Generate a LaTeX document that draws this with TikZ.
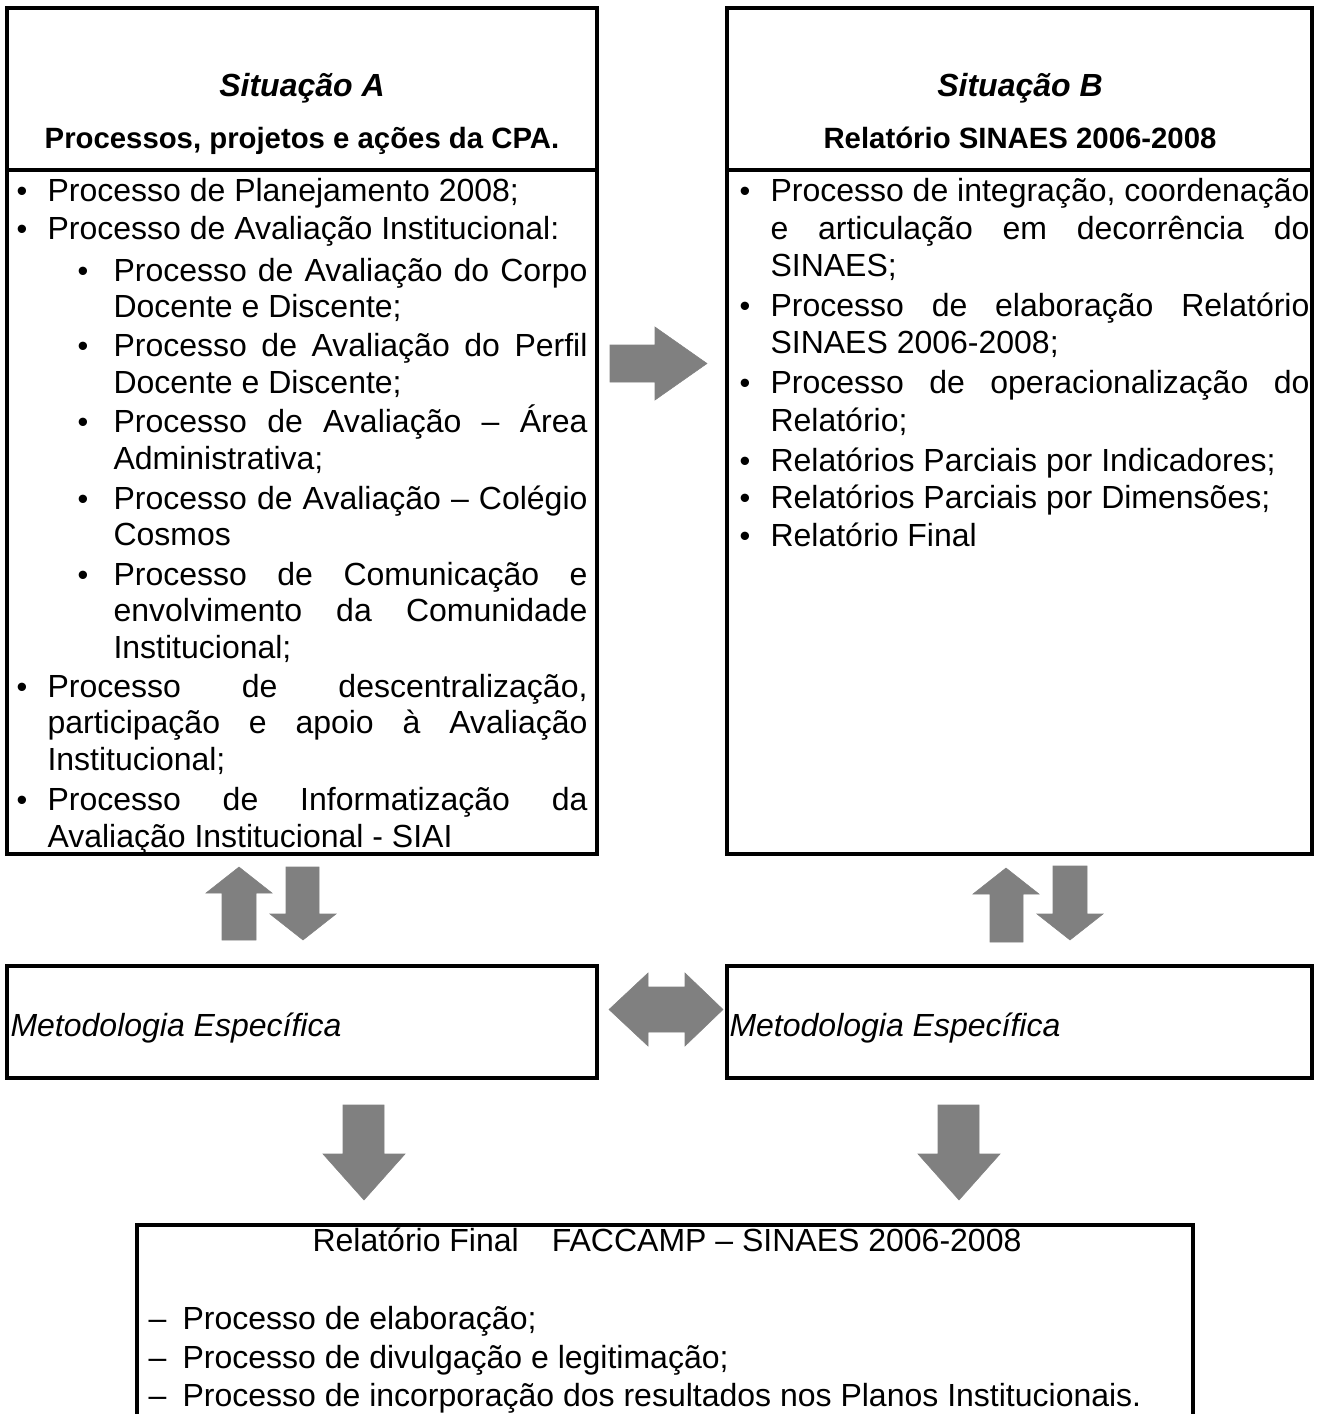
\documentclass[tikz,border=0pt]{standalone}
\usepackage{fontspec}
\setmainfont{Liberation Sans}
\definecolor{arrowgray}{RGB}{128,128,128}
% a line of a justified paragraph, stretched to the given width
\newcommand\jline[2]{\makebox[#1][s]{#2}}
\begin{document}
\begin{tikzpicture}[x=0.375pt,y=-0.375pt,
  frame/.style={line width=1.2pt, line join=miter},
  blockarrow/.style={fill=arrowgray, draw=arrowgray, line width=0.2pt},
  txt/.style={anchor=base west, inner sep=0pt, font=\fontsize{12}{14}\selectfont},
  ttl/.style={anchor=base, inner sep=0pt, font=\fontsize{12}{14}\selectfont\bfseries\itshape},
  subttl/.style={anchor=base, inner sep=0pt, font=\fontsize{11}{13}\selectfont\bfseries},
  bul/.style={anchor=base west, inner sep=0pt, font=\fontsize{11.5}{13}\selectfont}]
\useasboundingbox (0,0) rectangle (1320,1414);

% ---------- frames ----------
\draw[frame] (7,8) rectangle (597,854);
\draw[frame] (7,170) -- (597,170);
\draw[frame] (727,8) rectangle (1312,854);
\draw[frame] (727,170) -- (1312,170);
\draw[frame] (7,966) rectangle (597,1078);
\draw[frame] (727,966) rectangle (1312,1078);
\draw[frame] (137,1416) -- (137,1225) -- (1193,1225) -- (1193,1416);

% ---------- headers ----------
\node[ttl] (titA) at (302,96) {Situação A};
\node[subttl] (subA) at (302,148) {Processos, projetos e ações da CPA.};
\node[ttl] (titB) at (1020,96) {Situação B};
\node[subttl] (subB) at (1020,148) {Relatório SINAES 2006-2008};

% ---------- list of situation A ----------
\def\wa{202.5pt}\def\ws{177.75pt}
\node[bul] (ba1) at (16,201) {•};
\node[txt] (a1) at (47,201) {Processo de Planejamento 2008;};
\node[bul] (ba2) at (16,239) {•};
\node[txt] (a2) at (47,239) {Processo de Avaliação Institucional:};
\node[bul] (ba3) at (77,281) {•};
\node[txt] (a3) at (113,281) {\jline{\ws}{Processo de Avaliação do Corpo}};
\node[txt] (a4) at (113,317) {Docente e Discente;};
\node[bul] (ba5) at (77,356) {•};
\node[txt] (a5) at (113,356) {\jline{\ws}{Processo de Avaliação do Perfil}};
\node[txt] (a6) at (113,393) {Docente e Discente;};
\node[bul] (ba7) at (77,432) {•};
\node[txt] (a7) at (113,432) {\jline{\ws}{Processo de Avaliação – Área}};
\node[txt] (a8) at (113,469) {Administrativa;};
\node[bul] (ba9) at (77,509) {•};
\node[txt] (a9) at (113,509) {\jline{\ws}{Processo de Avaliação – Colégio}};
\node[txt] (a10) at (113,545) {Cosmos};
\node[bul] (ba11) at (77,585) {•};
\node[txt] (a11) at (113,585) {\jline{\ws}{Processo de Comunicação e}};
\node[txt] (a12) at (113,621) {\jline{\ws}{envolvimento da Comunidade}};
\node[txt] (a13) at (113,658) {Institucional;};
\node[bul] (ba14) at (16,697) {•};
\node[txt] (a14) at (47,697) {\jline{\wa}{Processo de descentralização,}};
\node[txt] (a15) at (47,733) {\jline{\wa}{participação e apoio à Avaliação}};
\node[txt] (a16) at (47,770) {Institucional;};
\node[bul] (ba17) at (16,810) {•};
\node[txt] (a17) at (47,810) {\jline{\wa}{Processo de Informatização da}};
\node[txt] (a18) at (47,847) {Avaliação Institucional - SIAI};

% ---------- list of situation B ----------
\def\wb{202.1pt}
\node[bul] (bb1) at (739,201) {•};
\node[txt] (b1) at (770,201) {\jline{\wb}{Processo de integração, coordenação}};
\node[txt] (b2) at (770,239) {\jline{\wb}{e articulação em decorrência do}};
\node[txt] (b3) at (770,276) {SINAES;};
\node[bul] (bb4) at (739,316) {•};
\node[txt] (b4) at (770,316) {\jline{\wb}{Processo de elaboração Relatório}};
\node[txt] (b5) at (770,353) {SINAES 2006-2008;};
\node[bul] (bb6) at (739,393) {•};
\node[txt] (b6) at (770,393) {\jline{\wb}{Processo de operacionalização do}};
\node[txt] (b7) at (770,431) {Relatório;};
\node[bul] (bb8) at (739,471) {•};
\node[txt] (b8) at (770,471) {Relatórios Parciais por Indicadores;};
\node[bul] (bb9) at (739,508) {•};
\node[txt] (b9) at (770,508) {Relatórios Parciais por Dimensões;};
\node[bul] (bb10) at (739,546) {•};
\node[txt] (b10) at (770,546) {Relatório Final};

% ---------- methodology boxes ----------
\node[txt, font=\fontsize{12}{14}\selectfont\itshape] (metA) at (10,1036) {Metodologia Específica};
\node[txt, font=\fontsize{12}{14}\selectfont\itshape] (metB) at (729,1036) {Metodologia Específica};

% ---------- final report ----------
\node[anchor=base, inner sep=0pt, font=\fontsize{12}{14}\selectfont] (fin) at (667,1251)
  {Relatório Final\hspace{12.4pt}FACCAMP – SINAES 2006-2008};
\node[txt] (d1) at (148,1329) {–};
\node[txt] (f1) at (182,1329) {Processo de elaboração;};
\node[txt] (d2) at (148,1368) {–};
\node[txt] (f2) at (182,1368) {Processo de divulgação e legitimação;};
\node[txt] (d3) at (148,1406) {–};
\node[txt] (f3) at (182,1406) {Processo de incorporação dos resultados nos Planos Institucionais.};

% ---------- block arrows ----------
% A to B
\draw[blockarrow] (610,345) -- (655,345) -- (655,327) -- (707,363.5) -- (655,400) -- (655,382) -- (610,382) -- cycle;
% up and down under A
\draw[blockarrow] (222,940) -- (222,893) -- (206,893) -- (239,867) -- (272,893) -- (256,893) -- (256,940) -- cycle;
\draw[blockarrow] (286,867) -- (319,867) -- (319,914) -- (336,914) -- (303,940) -- (270,914) -- (286,914) -- cycle;
% up and down under B
\draw[blockarrow] (990,942) -- (990,894) -- (973,894) -- (1006,868) -- (1039,894) -- (1023,894) -- (1023,942) -- cycle;
\draw[blockarrow] (1053,866) -- (1087,866) -- (1087,914) -- (1103,914) -- (1070,940) -- (1037,914) -- (1053,914) -- cycle;
% two-way arrow between the methodology boxes
\draw[blockarrow] (609,1009.5) -- (648,973) -- (648,987) -- (685,987) -- (685,973) -- (723,1009.5)
  -- (685,1046) -- (685,1032) -- (648,1032) -- (648,1046) -- cycle;
% down to the final report
\draw[blockarrow] (343,1105) -- (384,1105) -- (384,1154) -- (405,1154) -- (364,1200) -- (323,1154) -- (343,1154) -- cycle;
\draw[blockarrow] (938,1105) -- (979,1105) -- (979,1154) -- (1000,1154) -- (959,1200) -- (918,1154) -- (938,1154) -- cycle;
\end{tikzpicture}
\end{document}
